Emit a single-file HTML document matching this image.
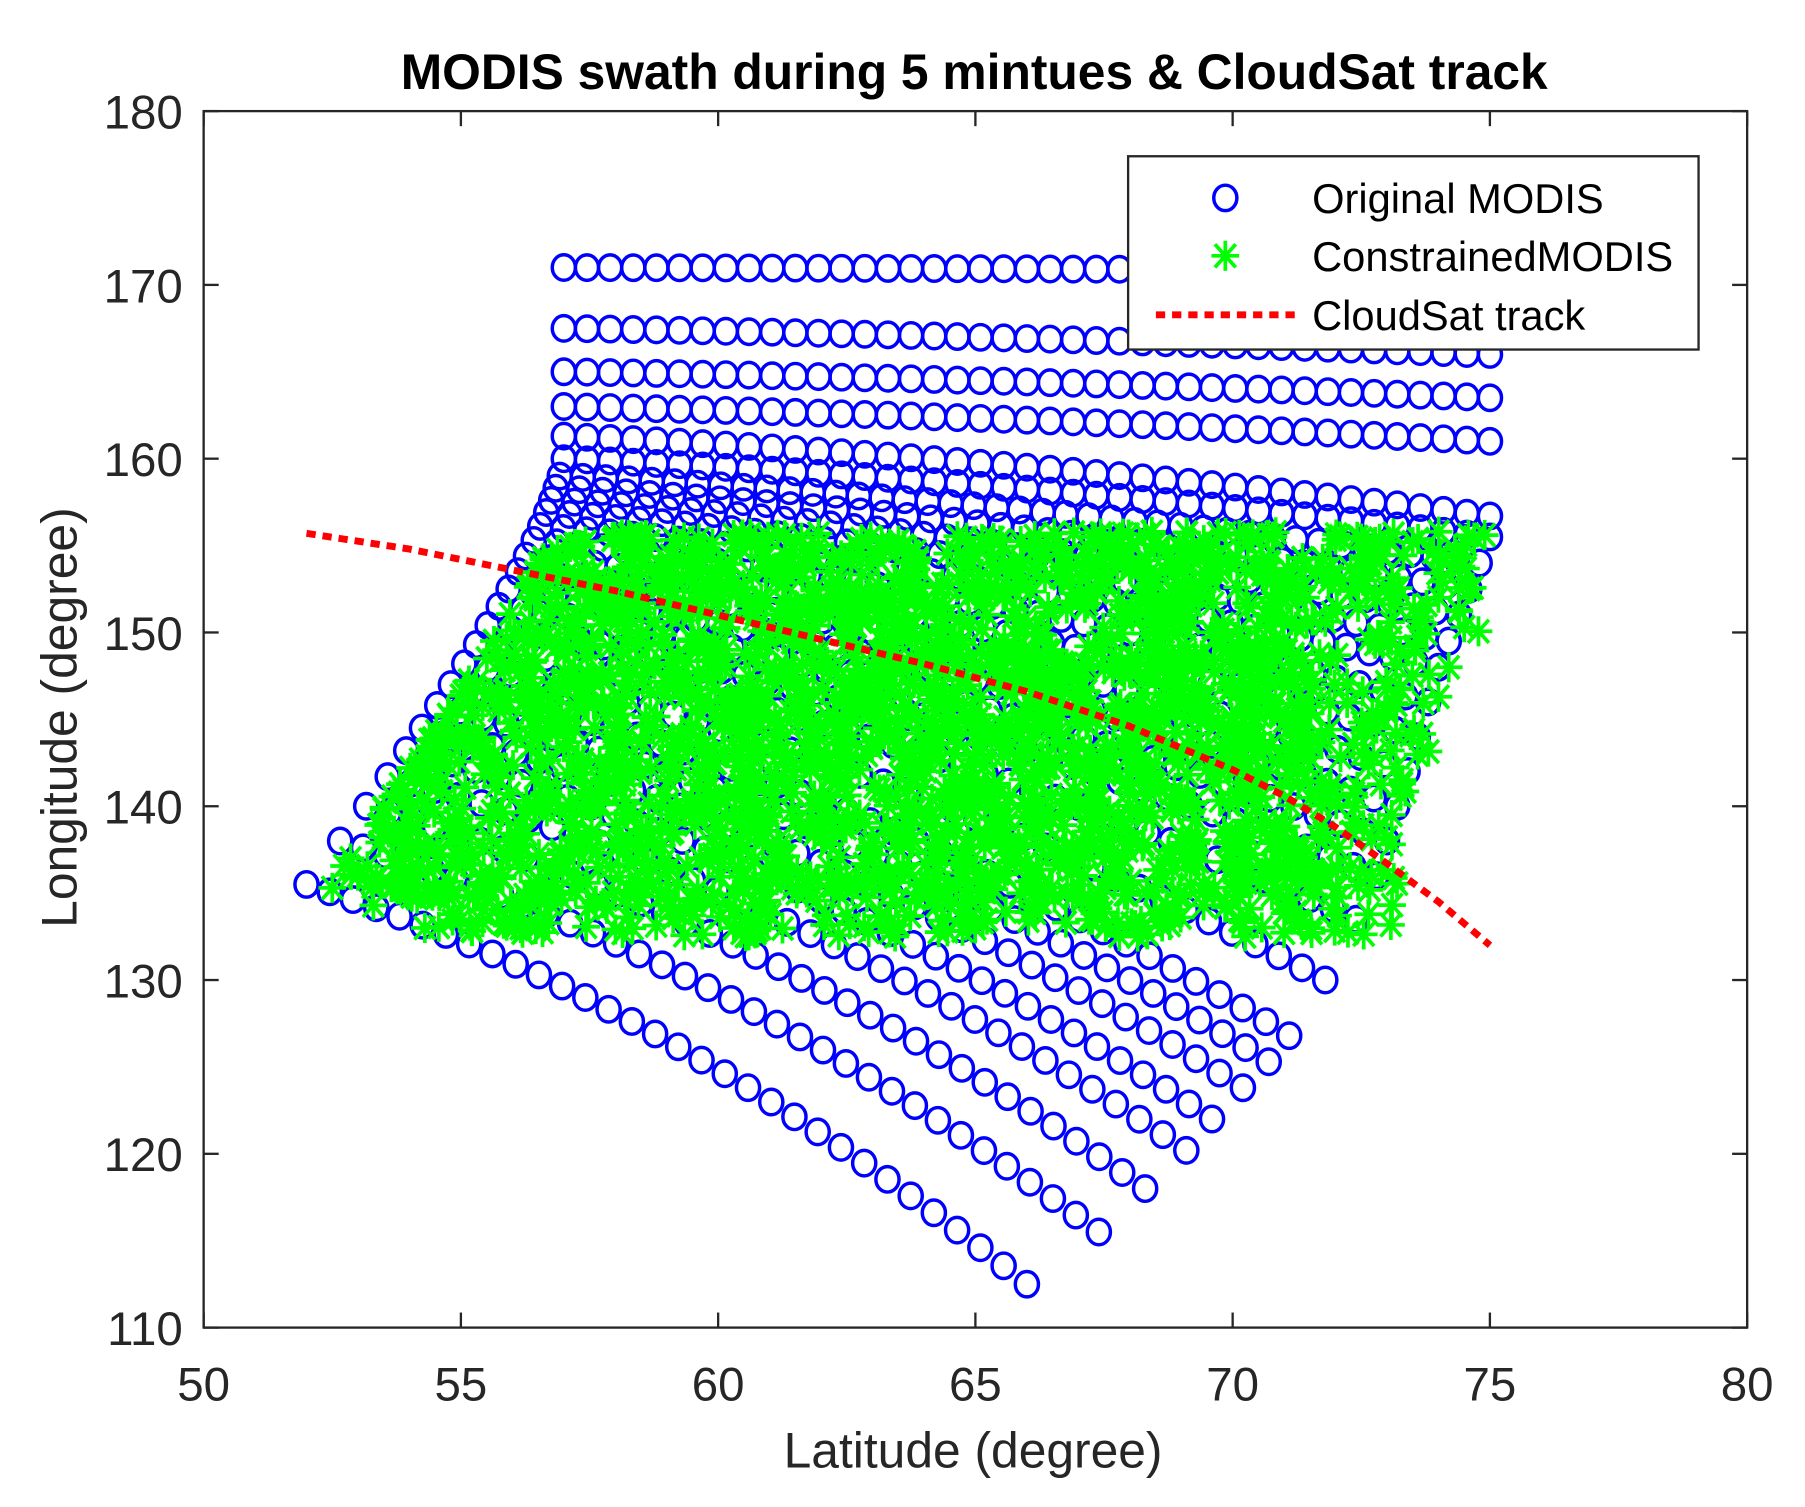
<!DOCTYPE html>
<html><head><meta charset="utf-8"><style>
html,body{margin:0;padding:0;background:#fff;}
svg{display:block;}
text{font-family:"Liberation Sans",Arial,sans-serif;fill:#262626;}
</style></head><body>
<svg id="s" width="1805" height="1507" viewBox="0 0 1560 1302" preserveAspectRatio="none" xmlns="http://www.w3.org/2000/svg">
<rect width="1560" height="1302" fill="#fff"/>
<g id="blue" fill="none" stroke="#0000ff" stroke-width="3"></g>
<g id="green" stroke="#00ff00" stroke-width="3.2"></g>
<polyline id="red" fill="none" stroke="#ff0000" stroke-width="6" stroke-dasharray="8,6"/>
<rect x="176" y="96" width="1334" height="1051" fill="none" stroke="#262626" stroke-width="2"/>
<g id="ticks" stroke="#262626" stroke-width="2"></g>
<g id="labels" font-size="41"></g>
<text x="842" y="77" font-size="43" font-weight="bold" text-anchor="middle" style="fill:#000">MODIS swath during 5 mintues &amp; CloudSat track</text>
<text x="841" y="1268" font-size="43" text-anchor="middle">Latitude (degree)</text>
<text transform="translate(66,620) rotate(-90)" font-size="43" text-anchor="middle">Longitude (degree)</text>
<rect x="975" y="135" width="493" height="167" fill="#fff" stroke="#262626" stroke-width="2"/>
<ellipse cx="1059" cy="171" rx="10" ry="11" fill="none" stroke="#0000ff" stroke-width="3"/>
<g stroke="#00ff00" stroke-width="3.2" transform="translate(1059,221)">
<line x1="-12" y1="0" x2="12" y2="0"/><line x1="0" y1="-13" x2="0" y2="13"/><line x1="-9" y1="-10" x2="9" y2="10"/><line x1="-9" y1="10" x2="9" y2="-10"/></g>
<line x1="999" y1="272" x2="1124" y2="272" stroke="#ff0000" stroke-width="6" stroke-dasharray="8,6"/>
<g font-size="36"><text x="1134" y="184" style="fill:#000">Original MODIS</text>
<text x="1134" y="234" style="fill:#000">ConstrainedMODIS</text>
<text x="1134" y="285" style="fill:#000">CloudSat track</text></g>
</svg>
<script>
var NS="http://www.w3.org/2000/svg";
function X(v){return 176+(v-50)*1334/30;}
function Y(v){return 1147-(v-110)*1051/70;}
function el(p,t,a){var e=document.createElementNS(NS,t);for(var k in a)e.setAttribute(k,a[k]);p.appendChild(e);return e;}
var tk=document.getElementById('ticks'),lb=document.getElementById('labels');
for(var v=50;v<=80;v+=5){var x=X(v);el(tk,'line',{x1:x,y1:1147,x2:x,y2:1134});el(tk,'line',{x1:x,y1:96,x2:x,y2:109});
var t=el(lb,'text',{x:x,y:1210,'text-anchor':'middle'});t.textContent=v;}
for(var v=110;v<=180;v+=10){var y=Y(v);el(tk,'line',{x1:176,y1:y,x2:189,y2:y});el(tk,'line',{x1:1510,y1:y,x2:1497,y2:y});
var t=el(lb,'text',{x:158,y:y+15,'text-anchor':'end'});t.textContent=v;}
var starts=[135.5,138,140,141.7,143.2,144.5,145.8,147,148.2,149.3,150.4,151.5,152.5,153.5,154.4,155.3,156.1,156.9,157.6,158.3,159,160,161.3,163,165,167.5,171];
var ends=[[66,112.5],[67.4,115.5],[68.3,118],[69.1,120.2],[69.6,122],[70.2,123.8],[70.7,125.3],[71.1,126.8],[71.8,130],[72.4,133.5],[72.8,136],[73,138],[73.2,140],[73.4,142],[73.6,144],[73.8,146],[74,148],[74.2,149.5],[74.4,151],[74.6,152.5],[74.8,154],[75,155.5],[75,156.7],[75,161],[75,163.5],[75,166],[75,170.8]];
var blue=document.getElementById('blue');
function leftLat(lon){var f=Math.max(0,(160-Math.min(lon,160))/24.5);return 57-5*Math.pow(f,1.3);}
for(var i=0;i<starts.length;i++){
var sy=starts[i],sx=leftLat(sy),ex=ends[i][0],ey=ends[i][1];
var cx=sx+(ex-sx)*0.5,cy=sy-0.28*(sy-ey);
var n=Math.round((ex-sx)/0.45);
for(var j=0;j<=n;j++){var t=j/n;var x=(1-t)*(1-t)*sx+2*t*(1-t)*cx+t*t*ex;var y=(1-t)*(1-t)*sy+2*t*(1-t)*cy+t*t*ey;
el(blue,'ellipse',{cx:X(x).toFixed(1),cy:Y(y).toFixed(1),rx:10,ry:11});}}
var seed=7;function rnd(){seed=(seed*16807)%2147483647;return seed/2147483647;}
var g=document.getElementById('green');var d='';
function star(x,y){x=+x.toFixed(1);y=+y.toFixed(1);d+='M'+(x-12)+' '+y+'h24M'+x+' '+(y-13)+'v26M'+(x-9)+' '+(y-10)+'l18 20M'+(x-9)+' '+(y+10)+'l18 -20';}
for(var k=0;k<2600;k++){var lon=132.5+rnd()*23.3;var l0=lon<135?54:leftLat(lon)+0.3;var r=lon>150?74.8:(lon>140?73.9:73.2);
var lat=l0+rnd()*(r-l0);if(rnd()<0.4&&lat>71.5)continue;if(lon<134.5&&rnd()<0.4)continue;star(X(lat),Y(lon));}
var extra=[[52.5,135.3],[53,136],[53.3,134.3],[53.6,138.5],[54,137.5],[54.3,133],[54.7,135],[55,133.5],[72.5,155.4],[73.5,155.2],[74,152],[74.6,152.5],[74.9,155.6],[74.2,148],[74.5,150.3],[74,146.3]];
extra.forEach(function(p){star(X(p[0]),Y(p[1]));});
el(g,'path',{d:d,fill:'none'});
var rp=[[52,155.7],[54,154.8],[56,153.6],[58,152.4],[60,151],[62,149.6],[64,148.2],[66,146.6],[68,144.6],[70,142.1],[71,140.6],[72,138.8],[73,136.7],[74,134.5],[75,132]];
document.getElementById('red').setAttribute('points',rp.map(function(p){return X(p[0]).toFixed(1)+','+Y(p[1]).toFixed(1);}).join(' '));
</script>
</body></html>
